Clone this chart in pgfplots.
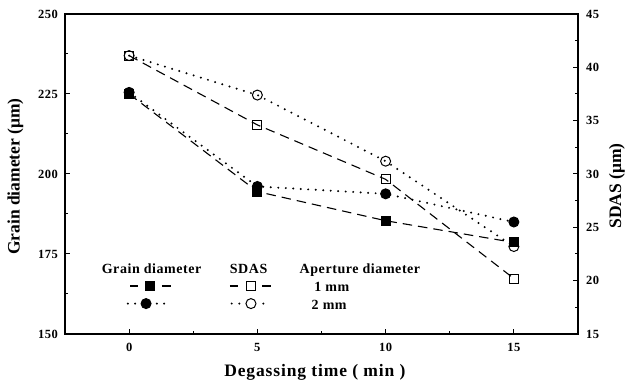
\documentclass[border=0pt]{standalone}
\usepackage{fontspec}
\setmainfont{Liberation Serif}
\usepackage{pgfplots}
\pgfplotsset{compat=1.18}
\pgfplotstableread{
x grainA grainB sdasA sdasB
0  225.0 225.5 41.1 41.1
5  194.5 196.1 34.6 37.4
10 185.4 193.8 29.5 31.2
15 178.6 185.0 20.2 23.2
}\data
\newcommand{\lgfont}{\bfseries\fontsize{14}{16}\selectfont\addfontfeatures{LetterSpace=4}}
\begin{document}
\begin{tikzpicture}
\pgfplotsset{
  common/.style={
    scale only axis, width=513pt, height=320pt,
    xmin=-2.5, xmax=17.5,
    tick align=inside,
    major tick length=5pt, minor tick length=3pt,
    every tick/.style={black, line width=1pt},
    axis line style={line width=1.5pt},
    ticklabel style={font=\bfseries\fontsize{12.5}{14}\selectfont\addfontfeatures{LetterSpace=4}, inner sep=0pt},
    /pgf/number format/assume math mode=true,
    label style={font=\bfseries\fontsize{17.5}{20}\selectfont},
  },
  dashedline/.style={black, line width=1.1pt, dash pattern=on 9.5pt off 6pt},
  dottedline/.style={black, line width=2.2pt, line cap=round, dash pattern=on 0pt off 7.5pt},
}
\begin{axis}[common,
  ymin=150, ymax=250,
  xtick={0,5,10,15}, minor xtick={2.5,7.5,12.5},
  ytick={150,175,200,225,250}, minor ytick={162.5,187.5,212.5,237.5},
  xtick pos=left, ytick pos=left,
  xticklabel style={anchor=north, yshift=-9pt},
  yticklabel style={anchor=east, xshift=-7pt},
  xlabel={Degassing time ( min )},
  xlabel style={at={(axis description cs:0.487,-0.133)}, anchor=base, font=\bfseries\fontsize{17.5}{20}\selectfont\addfontfeatures{LetterSpace=5}},
  ylabel={Grain diameter (μm)},
  ylabel style={at={(axis description cs:-0.0965,0.492)}, anchor=center},
]
\addplot[dashedline, mark=square*, mark size=4.5pt, mark options={solid, fill=black, line width=1pt}] table[x=x, y=grainA] {\data};
\addplot[dottedline, mark=*, mark size=5pt, mark options={solid, fill=black, line width=1pt}] table[x=x, y=grainB] {\data};
% legend samples
\addplot[black, line width=1.1pt, dash pattern=on 8.3pt off 23.4pt on 9pt off 100pt, mark=square*, mark indices={2}, mark size=4.5pt, mark options={solid, fill=black, line width=1pt}] coordinates {(0.04,165) (0.83,165) (1.625,165)};
\addplot[black, line width=2.2pt, line cap=round, dash pattern=on 0pt off 7.3pt on 0pt off 21.7pt on 0pt off 7.3pt on 0pt off 100pt, mark=*, mark indices={2}, mark size=5pt, mark options={solid, fill=black, line width=1pt}] coordinates {(-0.05,159.5) (0.66,159.5) (1.376,159.5)};
\addplot[black, line width=1.1pt, dash pattern=on 8.3pt off 24pt on 8.4pt off 100pt, mark=square, mark indices={2}, mark size=4.5pt, mark options={solid, fill=white, line width=1pt}] coordinates {(3.93,165) (4.756,165) (5.52,165)};
\addplot[black, line width=2.2pt, line cap=round, dash pattern=on 0pt off 7.6pt on 0pt off 24pt on 0pt off 7.4pt on 0pt off 100pt, mark=o, mark indices={2}, mark size=5pt, mark options={solid, fill=white, line width=1pt}] coordinates {(4.0,159.5) (4.75,159.5) (5.52,159.5)};
\node[font=\lgfont, anchor=base] at (axis cs:0.877,168.75) {Grain diameter};
\node[font=\lgfont, anchor=base] at (axis cs:4.66,168.75) {SDAS};
\node[font=\lgfont, anchor=base] at (axis cs:9.0,168.75) {Aperture diameter};
\node[font=\lgfont, anchor=base] at (axis cs:7.9,163.2) {1 mm};
\node[font=\lgfont, anchor=base] at (axis cs:7.8,157.7) {2 mm};
\end{axis}
\begin{axis}[common,
  ymin=15, ymax=45,
  axis x line=none, axis y line*=right,
  ytick={15,20,25,30,35,40,45}, minor ytick={17.5,22.5,27.5,32.5,37.5,42.5},
  yticklabel style={anchor=west, xshift=8pt},
  ylabel={SDAS (μm)},
  ylabel style={at={(axis description cs:1.076,0.4625)}, anchor=center},
]
\addplot[dashedline, mark=square, mark size=4.5pt, mark options={solid, fill=white, line width=1pt}] table[x=x, y=sdasA] {\data};
\addplot[dottedline, mark=o, mark size=5pt, mark options={solid, fill=white, line width=1pt}] table[x=x, y=sdasB] {\data};
\end{axis}
\pgfresetboundingbox
\path (-65pt,-53pt) rectangle (562pt,334pt);
\end{tikzpicture}
\end{document}
